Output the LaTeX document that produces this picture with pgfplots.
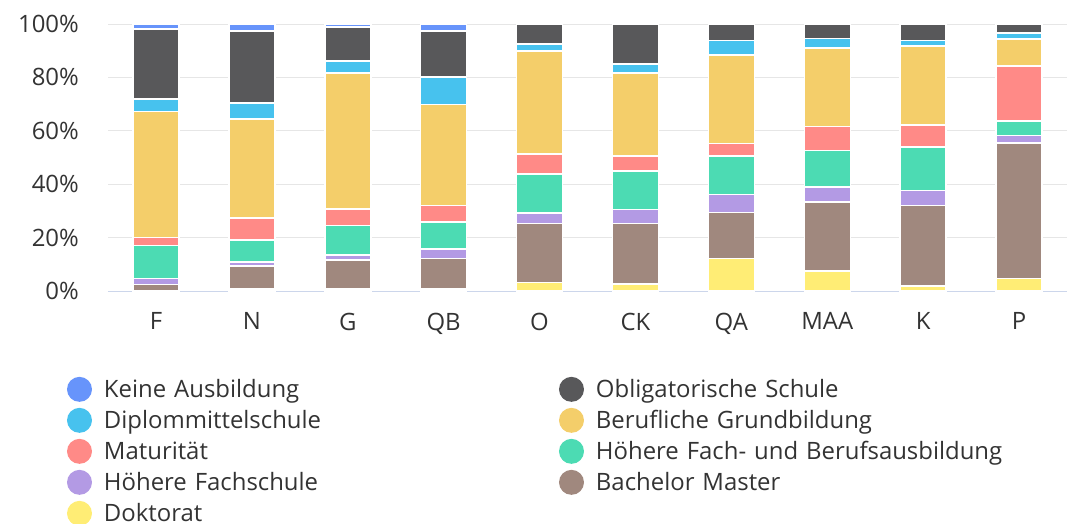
\documentclass[border=0pt]{standalone}
\usepackage{pgfplots}
\pgfplotsset{compat=1.18}
\usepackage{fontspec}
\setmainfont{Open Sans}
\definecolor{cKeine}{HTML}{6794FB}
\definecolor{cObl}{HTML}{58585A}
\definecolor{cDipl}{HTML}{47C2EE}
\definecolor{cBeruf}{HTML}{F4CE6A}
\definecolor{cMat}{HTML}{FF8A87}
\definecolor{cHFB}{HTML}{4CDBB3}
\definecolor{cHF}{HTML}{B39AE4}
\definecolor{cBM}{HTML}{A0887E}
\definecolor{cDok}{HTML}{FFED75}
\definecolor{txt}{HTML}{333333}
\definecolor{gridc}{HTML}{E6E6E6}
\definecolor{axc}{HTML}{CCD6EB}
\pgfplotsset{circleleg/.style={legend image code/.code={\fill[##1,draw=none] (0bp,0bp) circle (12.5bp);}}}
\begin{document}
\begin{tikzpicture}
\useasboundingbox (-108bp,-233bp) rectangle (959bp,291bp);
\begin{axis}[
  at={(0bp,0bp)}, anchor=south west,
  scale only axis, width=959bp, height=267bp,
  ybar stacked, bar width=46bp,
  xmin=-0.5, xmax=9.5, ymin=0, ymax=100,
  xtick={0,...,9}, xticklabels={F,N,G,QB,O,CK,QA,MAA,K,P},
  ytick={0,20,...,100}, yticklabel={\pgfmathprintnumber{\tick}\%},
  /pgf/number format/assume math mode=true,
  tick label style={font=\fontsize{24}{28}\selectfont, text=txt, inner sep=0pt},
  xticklabel style={anchor=north, yshift=-21.5bp},
  yticklabel style={anchor=east, xshift=-29bp},
  major tick length=0pt,
  axis x line*=bottom, axis y line*=left,
  x axis line style={draw=axc, line width=1bp},
  y axis line style={draw=none},
  ymajorgrids, grid style={draw=gridc, line width=1bp},
  legend columns=2, reverse legend,
  legend cell align=left,
  legend style={at={(-0.04275,-0.3215)}, anchor=north west, draw=none, fill=none,
    inner sep=0pt, outer sep=0pt, row sep=6bp,
    font=\fontsize{24}{28}\selectfont, text=txt,
    nodes={inner sep=0pt, text height=21bp, text depth=4bp},
    /tikz/every odd column/.append style={column sep=12bp},
    /tikz/every even column/.append style={text width=455bp}},
]
\addplot[fill=cDok, draw=white, line width=1.5bp, circleleg] coordinates {(0,0) (1,0.7) (2,0.7) (3,0.7) (4,3.2) (5,2.6) (6,12.2) (7,7.4) (8,1.9) (9,4.75)};
\addlegendentry{Doktorat}
\addplot[fill=cBM, draw=white, line width=1.5bp, circleleg] coordinates {(0,2.5) (1,8.6) (2,10.9) (3,11.5) (4,22.1) (5,22.7) (6,17.2) (7,26) (8,30.2) (9,50.65)};
\addlegendentry{Bachelor Master}
\addplot[fill=cHF, draw=white, line width=1.5bp, circleleg] coordinates {(0,2.2) (1,1.5) (2,1.9) (3,3.5) (4,4.0) (5,5.3) (6,6.8) (7,5.5) (8,5.5) (9,2.8)};
\addlegendentry{Höhere Fachschule}
\addplot[fill=cHFB, draw=white, line width=1.5bp, circleleg] coordinates {(0,12.3) (1,8.3) (2,11.1) (3,10.2) (4,14.5) (5,14.3) (6,14.3) (7,13.8) (8,16.3) (9,5.4)};
\addlegendentry{Höhere Fach- und Berufsausbildung}
\addplot[fill=cMat, draw=white, line width=1.5bp, circleleg] coordinates {(0,3.0) (1,8.2) (2,6.1) (3,6.2) (4,7.5) (5,5.7) (6,4.8) (7,8.9) (8,8.3) (9,20.7)};
\addlegendentry{Maturität}
\addplot[fill=cBeruf, draw=white, line width=1.5bp, circleleg] coordinates {(0,47.2) (1,37.2) (2,50.9) (3,37.7) (4,38.5) (5,31.0) (6,33.0) (7,29.4) (8,29.6) (9,10.1)};
\addlegendentry{Berufliche Grundbildung}
\addplot[fill=cDipl, draw=white, line width=1.5bp, circleleg] coordinates {(0,4.8) (1,6.0) (2,4.6) (3,10.3) (4,2.8) (5,3.4) (6,5.5) (7,3.6) (8,2.0) (9,2.3)};
\addlegendentry{Diplommittelschule}
\addplot[fill=cObl, draw=white, line width=1.5bp, circleleg] coordinates {(0,26.1) (1,26.9) (2,12.6) (3,17.2) (4,7.4) (5,15.0) (6,6.2) (7,5.4) (8,6.2) (9,3.3)};
\addlegendentry{Obligatorische Schule}
\addplot[fill=cKeine, draw=white, line width=1.5bp, circleleg] coordinates {(0,1.9) (1,2.6) (2,1.2) (3,2.7) (4,0) (5,0) (6,0) (7,0) (8,0) (9,0)};
\addlegendentry{Keine Ausbildung}
\end{axis}
\end{tikzpicture}
\end{document}
